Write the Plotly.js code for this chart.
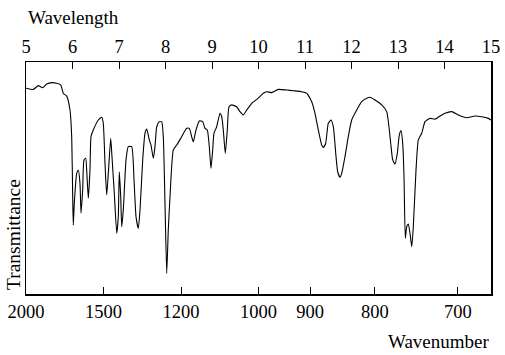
<!DOCTYPE html>
<html>
<head>
<meta charset="utf-8">
<script src="https://cdn.plot.ly/plotly-3.0.1.min.js"></script>
<style>html,body{margin:0;padding:0;background:#fff;}#chart{width:505px;height:355px;}</style>
</head>
<body>
<div id="chart"></div>
<script>
// Wavelength (micrometres) and transmittance (% of plot height)
const wavelength = [5.000,5.157,5.265,5.359,5.445,5.553,5.660,5.746,5.802,5.875,5.946,5.983,6.004,6.017,6.039,6.090,6.125,6.161,6.183,6.219,6.247,6.284,6.305,6.340,6.376,6.398,6.447,6.555,6.628,6.662,6.699,6.735,6.770,6.822,6.849,6.899,6.951,6.985,7.006,7.037,7.058,7.092,7.151,7.200,7.273,7.323,7.366,7.415,7.452,7.510,7.559,7.596,7.652,7.688,7.738,7.774,7.811,7.867,7.918,7.953,7.989,8.026,8.060,8.097,8.168,8.241,8.348,8.456,8.512,8.563,8.598,8.656,8.727,8.800,8.849,8.899,8.942,8.978,9.015,9.043,9.101,9.172,9.209,9.243,9.286,9.329,9.366,9.424,9.531,9.602,9.673,9.746,9.854,9.996,10.103,10.176,10.284,10.426,10.606,10.748,10.929,11.037,11.144,11.215,11.286,11.359,11.394,11.445,11.501,11.559,11.609,11.667,11.703,11.753,11.789,11.860,11.931,12.004,12.112,12.219,12.327,12.398,12.505,12.649,12.757,12.843,12.886,12.935,12.985,13.028,13.065,13.101,13.129,13.157,13.187,13.222,13.258,13.295,13.329,13.387,13.437,13.510,13.581,13.688,13.796,13.903,14.011,14.155,14.297,14.477,14.656,14.800,14.942,15.000];
const transmittance = [88.7,88.2,89.8,88.9,90.5,91.1,90.8,90.1,86.5,85.3,79.3,67.8,41.9,29.7,39.2,52.0,53.4,47.7,34.8,44.8,57.8,58.5,53.4,41.3,53.4,67.8,70.7,75.0,76.2,73.6,56.3,42.7,52.0,67.1,59.2,43.4,26.2,33.3,52.7,41.9,29.0,36.2,57.8,63.5,63.5,49.1,33.3,28.3,36.2,57.8,69.3,71.1,66.4,64.2,58.5,63.5,72.1,74.3,74.3,67.8,39.1,8.9,27.6,41.9,62.1,64.2,67.8,71.4,71.4,67.8,65.6,70.7,74.6,74.3,71.4,70.7,63.5,54.2,62.1,69.3,72.1,77.9,76.4,70.7,60.6,70.7,80.7,81.5,80.7,78.6,77.2,79.3,82.2,84.4,86.5,87.2,86.8,88.2,87.9,87.6,87.2,86.5,82.9,77.9,70.7,64.2,63.2,65.0,73.6,75.0,72.1,59.2,52.7,50.3,52.0,59.2,67.8,75.0,79.3,82.9,84.4,84.8,83.6,81.5,78.6,65.0,57.8,56.0,60.6,68.5,70.4,65.0,50.6,24.0,29.0,30.2,26.2,20.4,29.0,53.4,66.4,69.3,74.3,75.7,75.3,76.7,77.9,78.6,77.2,76.0,76.7,76.4,75.7,75.0];

const wavelengthTicks = [5,6,7,8,9,10,11,12,13,14,15];
const wavenumberTicks = [2000,1500,1200,1000,900,800,700];

const family = '"Liberation Serif", "Times New Roman", serif';
const tickFont = {family: family, size: 18.5, color: '#000'};
const titleFont = {family: family, size: 19, color: '#000'};
const yTitleFont = {family: family, size: 19.5, color: '#000'};

const traces = [
  {x: wavelength, y: transmittance, type: 'scatter', mode: 'lines',
   line: {color: '#000', width: 1.1, shape: 'spline', smoothing: 0.5},
   hoverinfo: 'skip', showlegend: false},
  {x: [5, 15], y: [null, null], xaxis: 'x2', type: 'scatter', mode: 'lines', showlegend: false, hoverinfo: 'skip'}
];

const layout = {
  width: 505, height: 355,
  margin: {l: 26, r: 14, t: 62, b: 61},
  paper_bgcolor: '#fff', plot_bgcolor: '#fff',
  font: tickFont,
  showlegend: false,
  xaxis: {
    range: [5, 15], showgrid: false, zeroline: false,
    showline: true, linecolor: '#000', linewidth: 1.5,
    tickmode: 'array',
    tickvals: wavenumberTicks.map(w => 10000 / w),
    ticktext: wavenumberTicks.map(String),
    ticks: 'inside', ticklen: 7, tickcolor: '#000', tickwidth: 1,
    tickfont: tickFont
  },
  xaxis2: {
    range: [5, 15], overlaying: 'x', side: 'top', anchor: 'y',
    showgrid: false, zeroline: false,
    showline: true, linecolor: '#000', linewidth: 1.5,
    tickmode: 'array', tickvals: wavelengthTicks, ticktext: wavelengthTicks.map(String),
    ticks: 'inside', ticklen: 7, tickcolor: '#000', tickwidth: 1,
    tickfont: tickFont
  },
  yaxis: {
    range: [0, 100], showgrid: false, zeroline: false,
    showline: true, mirror: true, linecolor: '#000', linewidth: 1.5,
    ticks: '', showticklabels: false
  },
  annotations: [
    {text: 'Wavelength', xref: 'paper', yref: 'paper', x: 0, y: 1, xshift: 0, yshift: 45,
     xanchor: 'left', yanchor: 'middle', showarrow: false, font: titleFont},
    {text: 'Wavenumber', xref: 'paper', yref: 'paper', x: 1, y: 0, yshift: -47,
     xanchor: 'right', yanchor: 'middle', showarrow: false, font: titleFont},
    {text: 'Transmittance', xref: 'paper', yref: 'paper', x: 0, y: 0, xshift: -13, yshift: 59,
     xanchor: 'center', yanchor: 'middle', textangle: -90, showarrow: false, font: yTitleFont}
  ]
};

Plotly.newPlot('chart', traces, layout, {staticPlot: true, displayModeBar: false});
</script>
</body>
</html>
